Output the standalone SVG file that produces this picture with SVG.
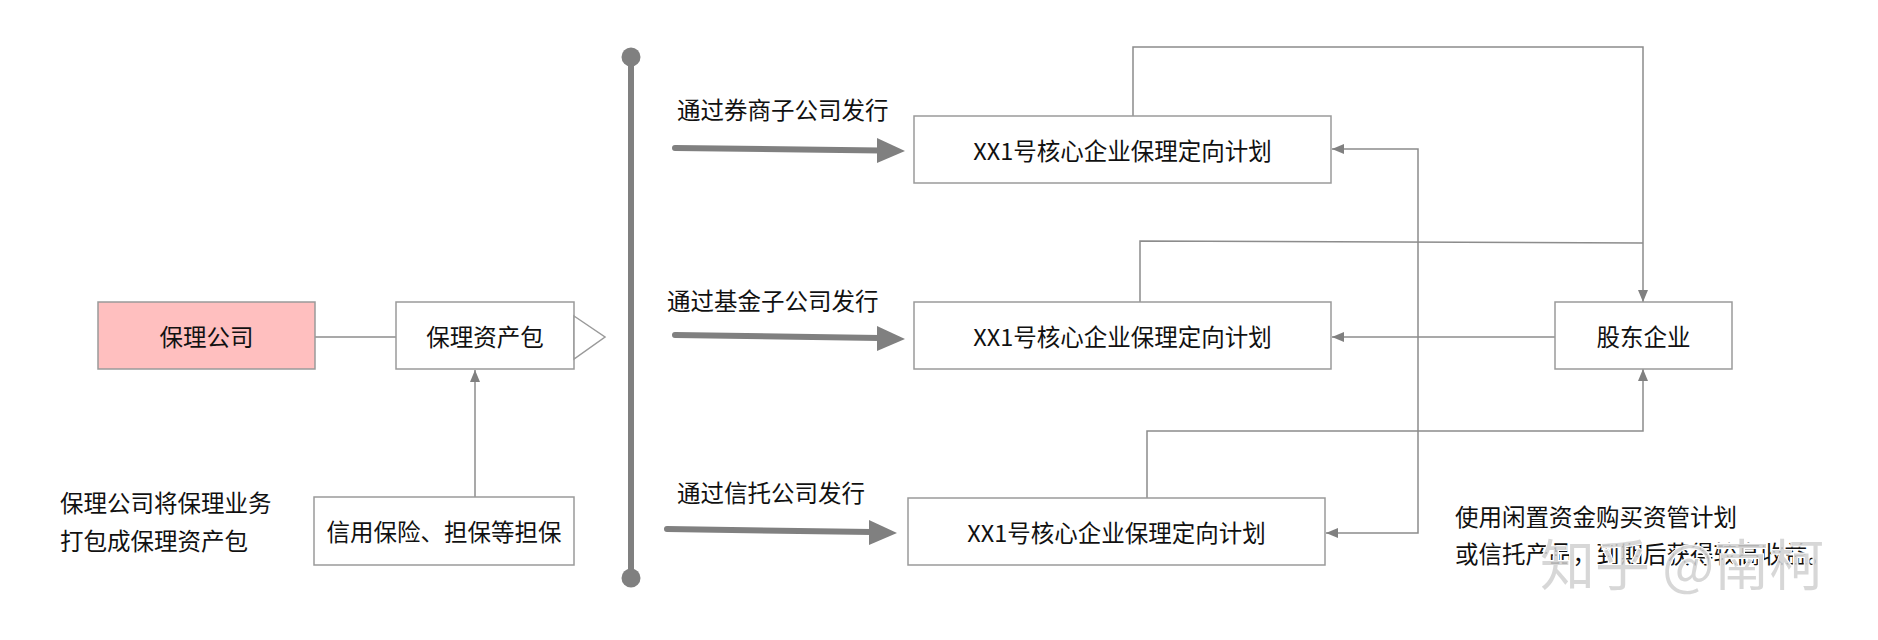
<svg xmlns="http://www.w3.org/2000/svg" width="1878" height="640" viewBox="0 0 1878 640">
<style>
  .box { fill: #ffffff; stroke: #9a9a9a; stroke-width: 1.5; }
  .pink { fill: #ffbfbf; }
  .t { font-family: "Noto Sans CJK SC", "Liberation Sans", sans-serif; font-size: 23.5px; fill: #111111; }
  .c { text-anchor: middle; dominant-baseline: central; }
  .thin { fill: none; stroke: #8c8c8c; stroke-width: 1.5; }
  .thick { fill: none; stroke: #808080; stroke-width: 6; stroke-linecap: round; }
  .head { fill: #808080; }
</style>
<defs>
  <marker id="ah" viewBox="0 0 12 10" refX="12" refY="5" markerWidth="12" markerHeight="10" markerUnits="userSpaceOnUse" orient="auto-start-reverse">
    <path d="M0,0 L12,5 L0,10 Z" fill="#808080"/>
  </marker>
</defs>
<rect width="1878" height="640" fill="#ffffff"/>

<g id="connectors">
  <line class="thin" x1="315" y1="337" x2="396" y2="337"/>
  <path class="thin" d="M475,497 V370" marker-end="url(#ah)"/>
  <line x1="631" y1="57" x2="631" y2="578" stroke="#808080" stroke-width="6"/>
  <circle cx="631" cy="57" r="9.5" fill="#808080"/>
  <circle cx="631" cy="578" r="9.5" fill="#808080"/>
  <path class="thick" d="M675,148 L880,150.5"/>
  <polygon class="head" points="877,138 905,151 877,163"/>
  <path class="thick" d="M675,335 L880,338"/>
  <polygon class="head" points="877,326 905,339 877,351"/>
  <path class="thick" d="M667,529 L872,532"/>
  <polygon class="head" points="869,520 897,533 869,545"/>
  <path class="thin" d="M1133,116 V47 H1643 V302" marker-end="url(#ah)"/>
  <path class="thin" d="M1140,302 V241 L1643,243"/>
  <path class="thin" d="M1147,498 V431 H1643 V369" marker-end="url(#ah)"/>
  <path class="thin" d="M1555,337 H1332" marker-end="url(#ah)"/>
  <path class="thin" d="M1332,149 H1418 V533 H1326" marker-start="url(#ah)" marker-end="url(#ah)"/>
</g>

<g id="baoli-gongsi">
  <rect class="box pink" x="98" y="302" width="217" height="67"/>
  <text class="t c" x="206.5" y="335.5">保理公司</text>
</g>
<g id="baoli-zichanbao">
  <rect class="box" x="396" y="302" width="178" height="67"/>
  <polygon class="box" points="574,316 605,337 574,359"/>
  <text class="t c" x="485" y="335.5">保理资产包</text>
</g>
<g id="danbao">
  <rect class="box" x="314" y="497" width="260" height="68"/>
  <text class="t c" x="444" y="531">信用保险、担保等担保</text>
</g>
<g id="note-left">
  <text class="t" x="60" y="512">保理公司将保理业务</text>
  <text class="t" x="60" y="550">打包成保理资产包</text>
</g>
<g id="label-1"><text class="t" x="677" y="119">通过券商子公司发行</text></g>
<g id="label-2"><text class="t" x="667" y="310">通过基金子公司发行</text></g>
<g id="label-3"><text class="t" x="677" y="502">通过信托公司发行</text></g>
<g id="plan-1">
  <rect class="box" x="914" y="116" width="417" height="67"/>
  <text class="t c" x="1122.5" y="149.5">XX1号核心企业保理定向计划</text>
</g>
<g id="plan-2">
  <rect class="box" x="914" y="302" width="417" height="67"/>
  <text class="t c" x="1122.5" y="335.5">XX1号核心企业保理定向计划</text>
</g>
<g id="plan-3">
  <rect class="box" x="908" y="498" width="417" height="67"/>
  <text class="t c" x="1116.5" y="531.5">XX1号核心企业保理定向计划</text>
</g>
<g id="gudong">
  <rect class="box" x="1555" y="302" width="177" height="67"/>
  <text class="t c" x="1643.5" y="335.5">股东企业</text>
</g>
<g id="note-right">
  <text class="t" x="1455" y="526">使用闲置资金购买资管计划</text>
  <text class="t" x="1455" y="563">或信托产品，到期后获得较高收益。</text>
</g>
<g id="watermark">
  <text x="1540" y="585" font-family="Noto Sans CJK SC, sans-serif" font-size="55" fill="#d0d0d0" fill-opacity="0.85" stroke="#ffffff" stroke-width="2" paint-order="stroke">知乎 @南柯</text>
</g>
</svg>
